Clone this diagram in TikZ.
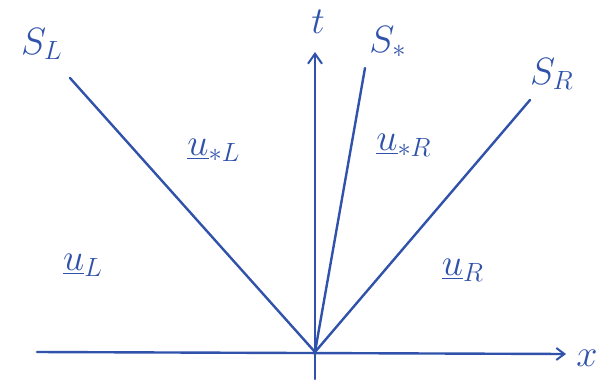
\documentclass[tikz,border=0pt]{standalone}
\usetikzlibrary{arrows.meta}
\definecolor{ink}{RGB}{48,82,170}
\newcommand{\biglbl}[1]{\scalebox{2.2}{#1}}
\begin{document}
\begin{tikzpicture}[x=1pt,y=-1pt,
  axis/.style={draw=ink,line width=2.4pt,line cap=round},
  wave/.style={draw=ink,line width=2.4pt,line cap=round},
  lbl/.style={text=ink,font=\LARGE,inner sep=1pt}]
\useasboundingbox (0,0) rectangle (597,381);
\coordinate (O) at (315,352);
\coordinate (xl) at (37,352);
\coordinate (xr) at (566,354);
\coordinate (tb) at (315,379);
\coordinate (tt) at (315,52);
\coordinate (sl) at (70,78);
\coordinate (ss) at (365,68);
\coordinate (sr) at (530,100);
\draw[axis,-{Straight Barb[length=8pt,width=12pt,line width=2pt]}] (xl) -- (xr);
\draw[axis,-{Straight Barb[length=10pt,width=14pt,line width=2pt]}] (tb) -- (tt);
\draw[wave] (O) -- (sl);
\draw[wave] (O) -- (ss);
\draw[wave] (O) -- (sr);
\node[lbl] (lx) at (587,358) {\biglbl{$x$}};
\node[lbl] (lt) at (318,22) {\biglbl{$t$}};
\node[lbl] (lsl) at (42,44) {\biglbl{$S_L$}};
\node[lbl] (lss) at (388,42) {\biglbl{$S_*$}};
\node[lbl] (lsr) at (552,74) {\biglbl{$S_R$}};
\node[lbl] (usl) at (214,150) {\biglbl{$\underline{u}_{*L}$}};
\node[lbl] (usr) at (404,145) {\biglbl{$\underline{u}_{*R}$}};
\node[lbl] (ul) at (83,265) {\biglbl{$\underline{u}_{L}$}};
\node[lbl] (ur) at (463,270) {\biglbl{$\underline{u}_{R}$}};
\end{tikzpicture}
\end{document}
